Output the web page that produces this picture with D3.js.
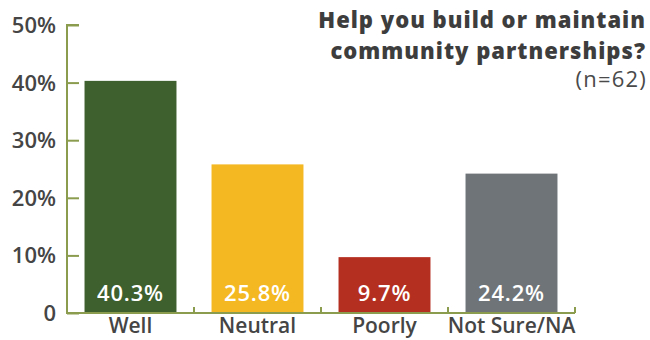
<!DOCTYPE html>
<html>
<head>
<meta charset="utf-8">
<script src="https://cdn.jsdelivr.net/npm/d3@7"></script>
<style>
  body { margin: 0; background: #fff; }
  text { font-family: "Open Sans", Lato, sans-serif; }
</style>
</head>
<body>
<div id="chart"></div>
<script>
let categories = ["Well", "Neutral", "Poorly", "Not Sure/NA"];
let values = [40.3, 25.8, 9.7, 24.2];
let barColors = ["#3e5f2e", "#f4b823", "#b52f20", "#6f7478"];
let yTicks = [0, 10, 20, 30, 40, 50];
let titleLines = ["Help you build or maintain", "community partnerships?"];
let subtitle = "(n=62)";

drawChart();

function drawChart() {
    let width = 650, height = 340;
    let margin = {top: 25, right: 75, bottom: 27, left: 67};

    let svg = d3.select("#chart").append("svg")
        .attr("width", width)
        .attr("height", height);

    let x = d3.scaleBand()
        .domain(categories)
        .range([margin.left, width - margin.right])
        .paddingInner(0.276)
        .paddingOuter(0.138);

    let y = d3.scaleLinear()
        .domain([0, 50])
        .range([height - margin.bottom, margin.top]);

    let axisColor = "#8b9c4f";
    let textColor = "#454545";

    // bars
    svg.append("g").selectAll("rect")
        .data(values)
        .enter().append("rect")
        .attr("x", (d, i) => x(categories[i]))
        .attr("y", d => y(d))
        .attr("width", x.bandwidth())
        .attr("height", d => y(0) - y(d))
        .attr("fill", (d, i) => barColors[i]);

    // value labels inside bars
    svg.append("g").selectAll("text")
        .data(values)
        .enter().append("text")
        .attr("x", (d, i) => x(categories[i]) + x.bandwidth() / 2)
        .attr("y", y(0) - 12)
        .attr("text-anchor", "middle")
        .attr("fill", "#fff")
        .style("font-size", "22px")
        .style("font-weight", 600)
        .style("letter-spacing", "0.8px")
        .text(d => d.toFixed(1) + "%");

    // y axis
    let yAxis = svg.append("g")
        .attr("transform", "translate(" + margin.left + ",0)")
        .call(d3.axisRight(y).tickValues(yTicks).tickSize(12).tickFormat(""));
    yAxis.select(".domain").attr("d", "M12," + y(50) + "H0V" + y(0) + "H12");
    yAxis.selectAll("path, line").attr("stroke", axisColor).attr("stroke-width", 2);

    svg.append("g").selectAll("text")
        .data(yTicks)
        .enter().append("text")
        .attr("x", margin.left - 11)
        .attr("y", d => y(d) + 8)
        .attr("text-anchor", "end")
        .attr("fill", textColor)
        .style("font-size", "22px")
        .style("font-weight", 600)
        .text(d => d === 0 ? "0" : d + "%");

    // x axis: line with small upward ticks at band boundaries
    let x0 = margin.left, x1 = width - margin.right;
    let step = x.step();
    let xAxis = svg.append("g");
    xAxis.append("line")
        .attr("x1", x0).attr("x2", x1)
        .attr("y1", y(0)).attr("y2", y(0))
        .attr("stroke", axisColor).attr("stroke-width", 2);
    xAxis.selectAll(".tick")
        .data(categories)
        .enter().append("line")
        .attr("x1", (d, i) => x0 + step * (i + 1))
        .attr("x2", (d, i) => x0 + step * (i + 1))
        .attr("y1", y(0))
        .attr("y2", y(0) - 6)
        .attr("stroke", axisColor).attr("stroke-width", 2);

    svg.append("g").selectAll("text")
        .data(categories)
        .enter().append("text")
        .attr("x", d => x(d) + x.bandwidth() / 2)
        .attr("y", 333)
        .attr("text-anchor", "middle")
        .attr("fill", textColor)
        .style("font-size", "21px")
        .style("font-weight", 600)
        .text(d => d);

    // title
    svg.append("g").selectAll("text")
        .data(titleLines)
        .enter().append("text")
        .attr("x", 646)
        .attr("y", (d, i) => 28 + i * 31)
        .attr("text-anchor", "end")
        .attr("fill", "#3d3d3d")
        .style("font-size", "22px")
        .style("font-weight", 800)
        .style("letter-spacing", "1px")
        .text(d => d);

    svg.append("text")
        .attr("x", 647)
        .attr("y", 87)
        .attr("text-anchor", "end")
        .attr("fill", "#4a4a4a")
        .style("font-size", "22px")
        .style("font-weight", 400)
        .style("letter-spacing", "1.2px")
        .text(subtitle);
}
</script>
</body>
</html>
